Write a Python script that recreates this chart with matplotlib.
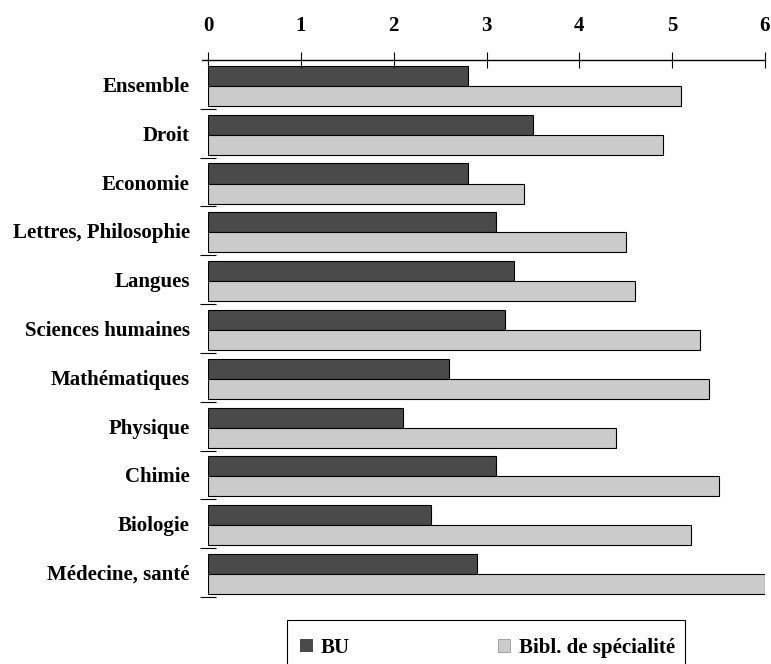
import numpy as np
import matplotlib
matplotlib.use("Agg")
import matplotlib.pyplot as plt
from matplotlib.patches import Rectangle, Patch
from matplotlib.lines import Line2D

categories = ["Ensemble", "Droit", "Economie", "Lettres, Philosophie", "Langues",
              "Sciences humaines", "Mathématiques", "Physique", "Chimie",
              "Biologie", "Médecine, santé"]
bu_values = [2.8, 3.5, 2.8, 3.1, 3.3, 3.2, 2.6, 2.1, 3.1, 2.4, 2.9]
spec_values = [5.1, 4.9, 3.4, 4.5, 4.6, 5.3, 5.4, 4.4, 5.5, 5.2, 6.0]
series_names = ["BU", "Bibl. de spécialité"]
x_ticks = [0, 1, 2, 3, 4, 5, 6]

plt.rcParams['font.family'] = ['Liberation Serif', 'DejaVu Serif']
plt.rcParams['font.weight'] = 'bold'

dark = "#4a4a4a"
light = "#cbcbcb"
fs = 15

fig = plt.figure(figsize=(7.71, 6.64), dpi=100)
ax = fig.add_axes([208 / 771, 1 - 597 / 664, (765 - 208) / 771, (597 - 60) / 664])

y = np.arange(len(categories))
h = 0.41
ax.barh(y - h / 2 + 0.03, bu_values, height=h, color=dark, edgecolor="black", linewidth=0.8)
ax.barh(y + h / 2 + 0.03, spec_values, height=h, color=light, edgecolor="black", linewidth=0.8)

ax.set_xlim(0, 6)
ax.set_ylim(len(categories) - 0.5, -0.5)

ax.xaxis.tick_top()
ax.set_xticks(x_ticks)
ax.set_xticklabels([str(t) for t in x_ticks], fontsize=fs, fontweight='bold')
ax.tick_params(axis='x', direction='inout', length=12, width=0.8, pad=11)

ax.set_yticks(y)
ax.set_yticklabels(categories, fontsize=fs, fontweight='bold')
ax.set_yticks(np.arange(len(categories)) + 0.5, minor=True)
ax.tick_params(axis='y', which='major', length=0, pad=13)
ax.tick_params(axis='y', which='minor', direction='inout', length=12, width=0.8)

for s in ["left", "right", "bottom"]:
    ax.spines[s].set_visible(False)
ax.spines["top"].set_linewidth(1.0)
# the top axis line sticks out a little on the left
ax.add_line(Line2D([-0.01, 0], [1, 1], transform=ax.transAxes, color="black",
                   linewidth=1.0, clip_on=False))

# legend box, runs off the bottom of the page
fig.patches.append(Rectangle((287 / 771, -0.05), (685 - 287) / 771, 0.05 + 1 - 620 / 664,
                             transform=fig.transFigure, fill=False, edgecolor="black",
                             linewidth=0.8))
handles = [Patch(facecolor=dark, edgecolor="none"), Patch(facecolor=light, edgecolor="#888888", linewidth=0.5)]
fig.legend(handles, series_names, loc="center left", bbox_to_anchor=(300 / 771, 1 - 648 / 664),
           ncol=2, frameon=False, fontsize=fs, handlelength=0.6, handleheight=0.6,
           handletextpad=0.4, columnspacing=7.1, borderpad=0, borderaxespad=0)

fig.savefig("out.png", dpi=100)
